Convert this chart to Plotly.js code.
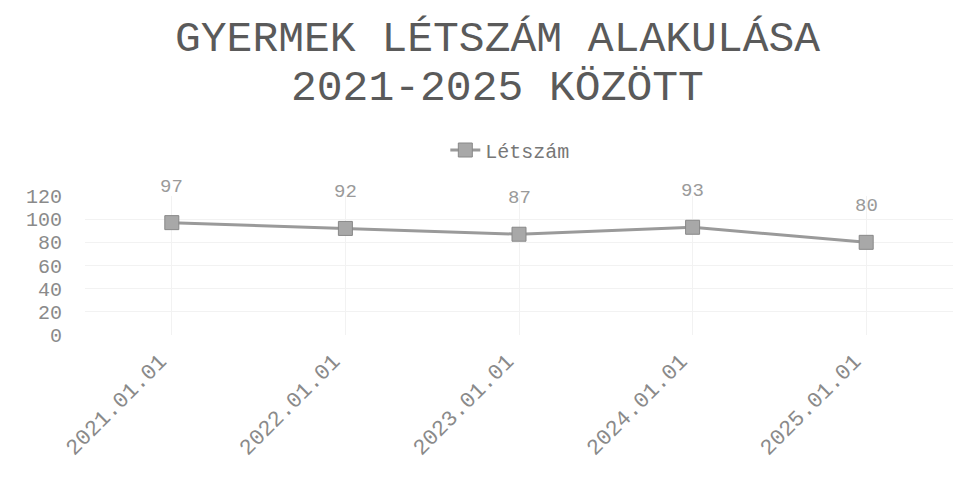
<!DOCTYPE html>
<html><head><meta charset="utf-8">
<script src="https://cdn.plot.ly/plotly-3.0.1.min.js"></script>
<style>body{margin:0;background:#fff}#c{width:972px;height:481px}</style>
</head><body><div id="c"></div>
<script>
const categories = ["2021.01.01","2022.01.01","2023.01.01","2024.01.01","2025.01.01"];
const letszam = [97, 92, 87, 93, 80];
const seriesName = "Létszám";
const titleLines = ["GYERMEK LÉTSZÁM ALAKULÁSA", "2021-2025 KÖZÖTT"];
const yTicks = [0, 20, 40, 60, 80, 100, 120];

const mono = "Liberation Mono, Courier New, monospace";

const trace = {
  x: categories, y: letszam, name: seriesName, type: "scatter", mode: "lines+markers",
  line: {color: "#9a9a9a", width: 3},
  marker: {symbol: "square", size: 14, color: "#a8a8a8", line: {color: "#888", width: 1}}
};

const annotations = categories.map((c, i) => ({
  x: c, y: letszam[i], xref: "x", yref: "y", text: String(letszam[i]), showarrow: false,
  yshift: 36, font: {family: mono, size: 19, color: "#9a9a9a"}
}));
annotations.push({xref: "paper", yref: "paper", x: 0.4747, y: (335-40)/139, text: titleLines[0],
  showarrow: false, xanchor: "center", yanchor: "middle", font: {family: mono, size: 43, color: "#5a5a5a"}});
annotations.push({xref: "paper", yref: "paper", x: 0.4747, y: (335-89)/139, text: titleLines[1],
  showarrow: false, xanchor: "center", yanchor: "middle", font: {family: mono, size: 43, color: "#5a5a5a"}});

const layout = {
  width: 972, height: 481,
  margin: {l: 85, r: 19, t: 196, b: 146},
  paper_bgcolor: "#fff", plot_bgcolor: "#fff",
  showlegend: true,
  legend: {orientation: "h", x: 0.49, xanchor: "center", y: (335-150)/139, yanchor: "middle",
    font: {family: mono, size: 20, color: "#777"}},
  xaxis: {type: "category", range: [-0.5, 4.5], tickangle: -45, showgrid: true, gridcolor: "#f2f2f2", zeroline: false,
    showline: false, ticks: "", ticklabelstandoff: 8, ticklabelshift: -12, tickfont: {family: mono, size: 22, color: "#8a8a8a"}},
  yaxis: {range: [0, 120], tickvals: yTicks, showgrid: true, gridcolor: "#f2f2f2", zeroline: false,
    showline: false, ticks: "", ticklabelstandoff: 22, tickfont: {family: mono, size: 20, color: "#8a8a8a"}},
  annotations: annotations
};

Plotly.newPlot("c", [trace], layout, {displayModeBar: false, staticPlot: true});
</script></body></html>
